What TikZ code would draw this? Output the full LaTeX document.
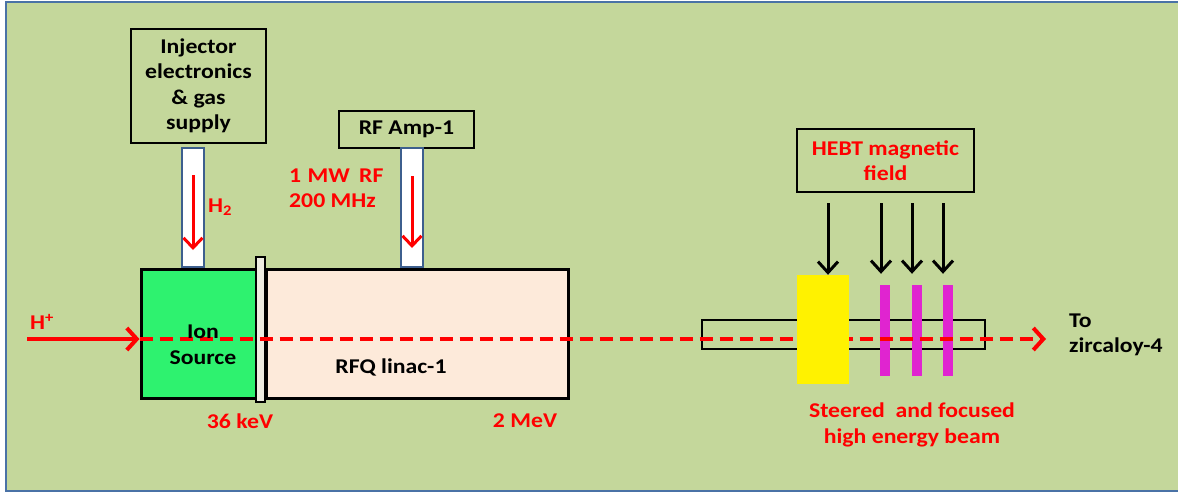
\documentclass[tikz,border=0pt]{standalone}
\usepackage{fontspec}
\setmainfont{Carlito}[FakeStretch=1.13]
\usetikzlibrary{arrows.meta}
\definecolor{bgc}{HTML}{C4D79B}
\definecolor{framec}{HTML}{4A72A6}
\definecolor{ionc}{HTML}{2EF26F}
\definecolor{rfqc}{HTML}{FDEADA}
\definecolor{platec}{HTML}{EEECE1}
\definecolor{tubec}{HTML}{3D5F8E}
\definecolor{magc}{HTML}{E024D0}
\definecolor{redc}{HTML}{FF0000}
\tikzset{
  txt/.style={font=\fontsize{21}{25.5}\selectfont\bfseries, align=center, inner sep=0pt},
  redtxt/.style={txt, text=redc},
  thinbox/.style={draw=black, line width=1.2pt, inner sep=0pt},
  thickbox/.style={draw=black, line width=3pt, inner sep=0pt},
  tube/.style={draw=tubec, fill=white, line width=2pt, inner sep=0pt},
  redarrow/.style={draw=redc, line width=3pt, -{Straight Barb[length=10pt,width=19pt,line width=3pt]}},
  beam/.style={draw=redc, line width=4pt, dash pattern=on 13pt off 7pt, -{Straight Barb[length=10pt,width=22pt,line width=4pt]}},
  blackarrow/.style={draw=black, line width=3pt, -{Straight Barb[length=11pt,width=20pt,line width=3pt]}},
}
\begin{document}
\begin{tikzpicture}[x=1pt,y=-1pt]
\useasboundingbox (0,0) rectangle (1178,493);
\fill[white] (0,0) rectangle (1178,493);
\fill[bgc, draw=framec, line width=2.5pt] (6,2) rectangle (1190,491);

% injector
\node[thinbox, minimum width=135pt, minimum height=114pt] (inj) at (198.5,86) {};
\node[txt] (injt) at (inj.center) {Injector\\electronics\\\& gas\\supply};
\node[tube, minimum width=22pt, minimum height=119pt] (gtube) at (193,207.5) {};

% RF amp
\node[thinbox, minimum width=135pt, minimum height=37pt] (rfamp) at (406.5,129.5) {};
\node[txt] (rfampt) at (rfamp.center) {RF Amp-1};
\node[tube, minimum width=22pt, minimum height=119pt] (rtube) at (412,207.5) {};

% RFQ
\node[thickbox, fill=rfqc, minimum width=302pt, minimum height=129pt] (rfq) at (417,333.5) {};
\node[txt] (rfqt) at (391,367) {RFQ linac-1};

% ion source
\node[thickbox, fill=ionc, minimum width=115pt, minimum height=129pt] (ion) at (198.5,333.5) {};
\node[draw=black, line width=2pt, fill=platec, minimum width=9pt, minimum height=145pt, inner sep=0pt] (plate) at (260.5,329.5) {};

% beam pipe and magnets
\node[thinbox, line width=2.2pt, minimum width=283pt, minimum height=29pt] (pipe) at (843.5,334.5) {};
\foreach \i/\x in {1/885,2/916.5,3/948}{
  \node[fill=magc, minimum width=10pt, minimum height=91pt, inner sep=0pt] (mag\i) at (\x,330.5) {};
}

% coordinates
\coordinate (hstart) at (27,339);
\coordinate (bend) at (1046,339);
\coordinate (g1) at (193,175);
\coordinate (g2) at (193,250);
\coordinate (r1) at (412,176);
\coordinate (r2) at (412,248);

% arrows
\draw[redarrow, line width=4pt, -{Straight Barb[length=10pt,width=22pt,line width=4pt]}] (hstart) -- (hstart -| ion.west);
\draw[beam] (hstart -| ion.west) -- (bend);
\node[fill=yellow, minimum width=52pt, minimum height=109pt, inner sep=0pt] (yel) at (823,329.5) {};
\draw[redarrow] (g1) -- (g2);
\draw[redarrow] (r1) -- (r2);

% ion text over beam
\node[txt] (iont) at (203,345) {Ion\\Source};

% HEBT
\node[thinbox, minimum width=177pt, minimum height=63pt] (hebt) at (885.5,160.5) {};
\node[redtxt] (hebtt) at (hebt.center) {HEBT magnetic\\field};
\coordinate (a1) at (828,203);
\coordinate (a2) at (881,203);
\coordinate (a3) at (912,203);
\coordinate (a4) at (943,203);
\draw[blackarrow] (a1) -- (a1 |- yel.north);
\draw[blackarrow] (a2) -- ([yshift=11pt]a2 |- mag1.north);
\draw[blackarrow] (a3) -- ([yshift=11pt]a3 |- mag2.north);
\draw[blackarrow] (a4) -- ([yshift=11pt]a4 |- mag3.north);

% labels
\node[redtxt, anchor=west] (h2) at (208,207) {H\textsubscript{2}};
\node[redtxt, align=left, anchor=west] (rfpow) at (289,188) {1\hspace{1pt} MW\hspace{4pt} RF\\200 MHz};
\node[redtxt] (e1) at (240,421) {36 keV};
\node[redtxt] (e2) at (525,421) {2 MeV};
\node[redtxt, anchor=west] (hp) at (30,322) {H\textsuperscript{+}};
\node[redtxt] (steer) at (912,425) {Steered\ \ and focused\\high energy beam};
\node[txt, align=left, anchor=west] (to) at (1069,335) {To\\zircaloy-4};
\end{tikzpicture}
\end{document}
